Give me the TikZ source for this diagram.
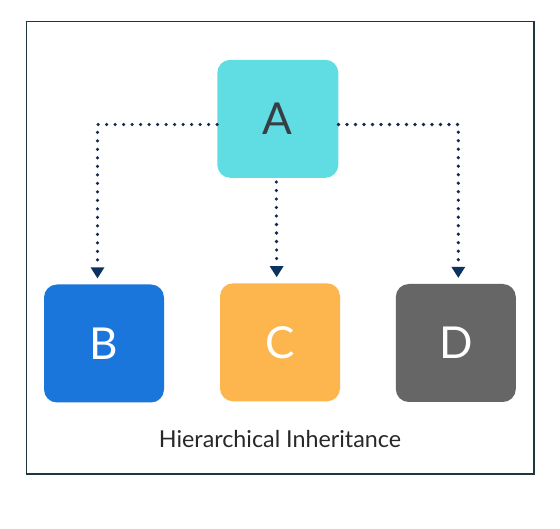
\documentclass[tikz,border=0pt]{standalone}
\usepackage{fontspec}
\setmainfont{Lato}
\usetikzlibrary{arrows.meta}
\definecolor{boxA}{RGB}{96,221,226}
\definecolor{boxB}{RGB}{27,118,219}
\definecolor{boxC}{RGB}{253,182,78}
\definecolor{boxD}{RGB}{102,102,102}
\definecolor{letterA}{RGB}{55,62,68}
\definecolor{framec}{RGB}{30,55,60}
\definecolor{dotc}{RGB}{20,40,75}
\definecolor{tipc}{RGB}{12,50,95}
\definecolor{captc}{RGB}{40,40,40}
\tikzset{
  classbox/.style={rectangle, rounded corners=13pt, minimum width=120pt, minimum height=118pt, inner sep=0pt, font=\fontsize{44}{44}\selectfont},
  conn/.style={dotc, line width=3.6pt, line cap=round, dash pattern=on 0pt off 8.5pt, -{Triangle[width=14pt,length=11pt,fill=tipc,color=tipc,line width=0pt]}, shorten >=6pt},
}
\begin{document}
\begin{tikzpicture}[x=1pt,y=-1pt]
\useasboundingbox (0,0) rectangle (560,529);
\fill[white] (0,0) rectangle (560,529);
\draw[framec, line width=1.1pt] (26.3,21.3) rectangle (534,474);
\node[classbox, fill=boxA, text=letterA, minimum width=121pt] (A) at (277.8,118.8) {A};
\node[classbox, fill=boxB, text=white] (B) at (104,343.5) {B};
\node[classbox, fill=boxC, text=white] (C) at (280,342.3) {C};
\node[classbox, fill=boxD, text=white] (D) at (455.8,343) {D};
\node[font=\fontsize{23.3}{23.3}\selectfont, text=captc, anchor=base] (cap) at (280,447) {Hierarchical Inheritance};
\coordinate (bl) at (97.5,124.5);
\coordinate (dr) at (458.3,124.5);
\draw[conn] (A.west |- bl) -- (bl) -- (bl |- B.north);
\draw[conn] (A.east |- dr) -- (dr) -- (dr |- D.north);
\draw[conn] ([xshift=-1.5pt,yshift=-4pt]A.south) -- ([xshift=-3.3pt]C.north);
\end{tikzpicture}
\end{document}
